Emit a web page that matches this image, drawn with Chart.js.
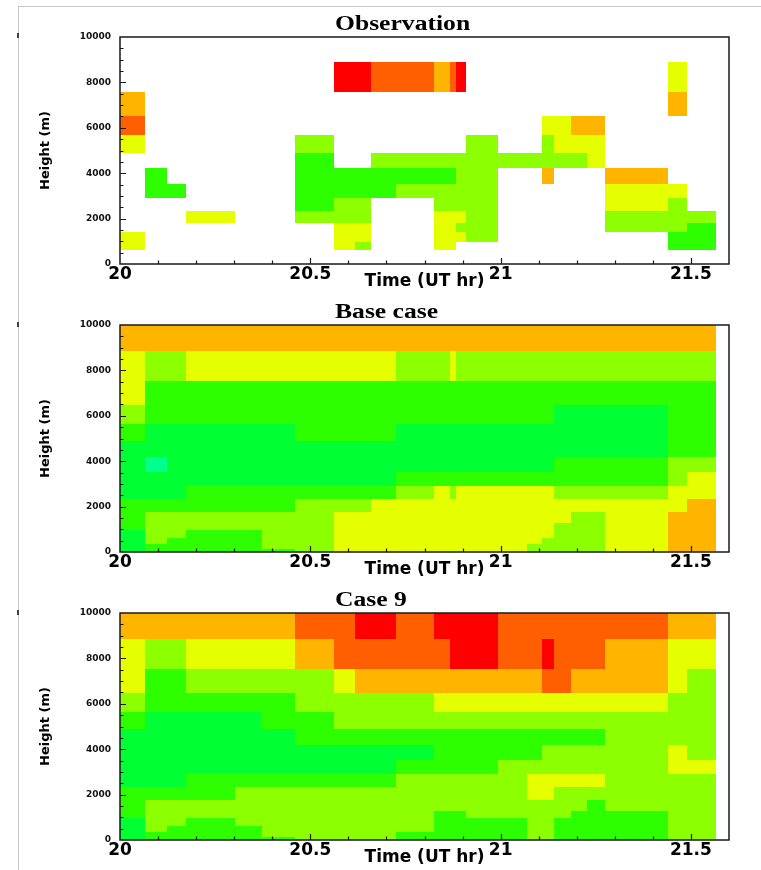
<!DOCTYPE html>
<html>
<head>
<meta charset="utf-8">
<title>Observation / Base case / Case 9</title>
<script src="https://cdn.jsdelivr.net/npm/chart.js@4.4.1/dist/chart.umd.min.js"></script>
<style>
  html, body { margin: 0; padding: 0; background: #fff; }
  body { width: 761px; height: 870px; position: relative; overflow: hidden; }
  .frame { position: absolute; left: 18px; top: 6px; right: 0; bottom: 0;
           border-left: 1px solid #c6c6c6; border-top: 1px solid #c6c6c6; }
  .mark { position: absolute; left: 17px; width: 2px; height: 5px; background: #444; }
  .panel { position: absolute; left: 0; width: 761px; height: 290px; }
</style>
</head>
<body>
<div class="frame"></div>
<div class="mark" style="top:33px"></div>
<div class="mark" style="top:322px"></div>
<div class="mark" style="top:610px"></div>
<div class="panel" style="top:0px"><canvas id="obs"></canvas></div>
<div class="panel" style="top:288px"><canvas id="base"></canvas></div>
<div class="panel" style="top:576px"><canvas id="case9"></canvas></div>

<script>
// column boundaries (UT hours) shared by all three panels
const timeEdges = [20.000, 20.066, 20.124, 20.174, 20.301, 20.374, 20.461, 20.561,
                   20.617, 20.660, 20.726, 20.824, 20.867, 20.882, 20.909, 20.993,
                   21.068, 21.108, 21.139, 21.186, 21.226, 21.274, 21.441, 21.489, 21.567];

// layer boundaries (m)
const obsHeights = [0, 620, 960, 1400, 1790, 2350, 2890, 3520, 4210, 4900, 5680, 6520, 7560, 8880, 10000];
const modelHeights = [0, 150, 340, 630, 970, 1290, 1780, 2340, 2910, 3520, 4190, 4890, 5650, 6480, 7520, 8870, 10000];

// colour classes 0..7
const levelColors = ['#00ff8c', '#00ff33', '#2dff00', '#8cff00', '#e6ff00', '#ffb400', '#ff5f00', '#ff0000'];

const timeTicks = [20, 20.5, 21, 21.5];
const heightTicks = [0, 2000, 4000, 6000, 8000, 10000];

// one string per layer, top layer first; one character per time column, '.' = no data
const obsRows = [
  '........................',
  '.......7766567........4.',
  '5.....................5.',
  '6................4455...',
  '4.....3.......3..3444...',
  '......2..333333333334...',
  '.2....222222233..5...5..',
  '.22...222233333......44.',
  '......233..3333......43.',
  '...4..333..4443......333',
  '.......44..4433......332',
  '4......44..4443.......22',
  '4......43..44.........22',
  '........................'
];

const baseRows = [
  '555555555555555555555555',
  '433444444433433333333333',
  '422222222222222222222222',
  '322222222222222222111122',
  '211111222211111111111122',
  '111111111111111111111122',
  '101111111111111111222233',
  '111111111122222222222234',
  '111222222234344444333344',
  '222222333444444444444445',
  '233333344444444444433455',
  '233333344444444444333455',
  '133223344444444444333455',
  '132223344444444443333455',
  '122223344444444433333455',
  '122222344444444433333455'
];

const case9Rows = [
  '555555667767777666666655',
  '433444566666777667666544',
  '422333345555555556655543',
  '322222333334444444444433',
  '211112233333333333333333',
  '111111222222222222222333',
  '111111111112222223333343',
  '111111111122222333333344',
  '111222222233333344444333',
  '222233333333333344333333',
  '233333333333333333332333',
  '233333333332223333322233',
  '133233333332222233222233',
  '132223333332222233222233',
  '122223333322222233222233',
  '122222333322222233222233'
];

// fills the time/height cells through the chart's own scales
function cellLayer(rows, heights) {
  rows.forEach(r => {
    if (r.length !== timeEdges.length - 1) throw new Error('bad row length: ' + r);
  });
  if (rows.length !== heights.length - 1) throw new Error('bad layer count');
  return {
    id: 'cellLayer',
    beforeDatasetsDraw(chart) {
      const {ctx, chartArea: a, scales: {x, y}} = chart;
      ctx.save();
      ctx.beginPath();
      ctx.rect(a.left, a.top, a.width, a.height);
      ctx.clip();
      rows.forEach((row, k) => {
        const band = rows.length - 1 - k;
        const yTop = Math.round(y.getPixelForValue(heights[band + 1]));
        const yBot = Math.round(y.getPixelForValue(heights[band]));
        for (let c = 0; c < row.length; c++) {
          if (row[c] === '.') continue;
          const x0 = Math.round(x.getPixelForValue(timeEdges[c]));
          const x1 = Math.round(x.getPixelForValue(timeEdges[c + 1]));
          ctx.fillStyle = levelColors[+row[c]];
          ctx.fillRect(x0, yTop, x1 - x0, yBot - yTop);
        }
      });
      ctx.restore();
    }
  };
}

// box around the plot with inward tick marks
const frameTicks = {
  id: 'frameTicks',
  afterDatasetsDraw(chart) {
    const {ctx, chartArea: a, scales: {x, y}} = chart;
    ctx.save();
    ctx.strokeStyle = '#1a1a1a';
    ctx.lineWidth = 1.2;
    ctx.beginPath();
    for (let i = 1; i < 16; i++) {
      const px = Math.round(x.getPixelForValue(20 + i / 10)) + 0.5;
      const len = i % 5 === 0 ? 6 : 3.5;
      ctx.moveTo(px, a.bottom);
      ctx.lineTo(px, a.bottom - len);
    }
    for (let i = 1; i < 20; i++) {
      const py = Math.round(y.getPixelForValue(i * 500)) + 0.5;
      const len = i % 4 === 0 ? 6 : 3.5;
      ctx.moveTo(a.left, py);
      ctx.lineTo(a.left + len, py);
    }
    ctx.stroke();
    ctx.lineWidth = 1.5;
    ctx.strokeRect(a.left, a.top, a.width, a.height);
    ctx.restore();
  }
};

// panel heading, left-set above the plot in a wide bold serif
function panelTitle(text) {
  return {
    id: 'panelTitle',
    afterDraw(chart) {
      const ctx = chart.ctx;
      ctx.save();
      ctx.fillStyle = '#000';
      ctx.font = 'bold 20px "Liberation Serif", serif';
      ctx.textBaseline = 'alphabetic';
      ctx.textAlign = 'left';
      ctx.translate(335, 29.5);
      ctx.scale(1.28, 1);
      ctx.fillText(text, 0, 0);
      ctx.restore();
    }
  };
}

const boldSans = (size, lineHeight) => ({family: '"DejaVu Sans", sans-serif', weight: 'bold', size, lineHeight});

function makePanel(id, title, rows, heights) {
  return new Chart(document.getElementById(id), {
    type: 'scatter',
    data: { datasets: [{ data: [] }] },
    options: {
      responsive: true,
      maintainAspectRatio: false,
      animation: false,
      events: [],
      layout: { padding: { left: 0, right: 32, top: 37, bottom: 0 } },
      plugins: { legend: { display: false }, tooltip: { enabled: false } },
      scales: {
        x: {
          type: 'linear', min: 20, max: 21.6,
          afterBuildTicks: s => { s.ticks = timeTicks.map(v => ({ value: v })); },
          afterFit: s => { s.height = 26; },
          grid: { display: false, drawTicks: false },
          border: { display: false },
          ticks: { padding: 0, maxRotation: 0, autoSkip: false, color: '#000',
                   font: boldSans(17, 1.2), callback: v => String(v) },
          title: { display: true, text: 'Time (UT hr)', color: '#000',
                   font: boldSans(17, 1), padding: { top: 0, bottom: 0 } }
        },
        y: {
          type: 'linear', min: 0, max: 10000,
          afterBuildTicks: s => { s.ticks = heightTicks.map(v => ({ value: v })); },
          afterFit: s => { s.width = 120; },
          grid: { display: false, drawTicks: false },
          border: { display: false },
          ticks: { padding: 9, color: '#111', font: boldSans(9, 1.2), callback: v => String(v) },
          title: { display: true, text: 'Height (m)', color: '#000',
                   font: boldSans(13, 1.2), padding: { top: 38, bottom: 0 } }
        }
      }
    },
    plugins: [cellLayer(rows, heights), frameTicks, panelTitle(title)]
  });
}

makePanel('obs', 'Observation', obsRows, obsHeights);
makePanel('base', 'Base case', baseRows, modelHeights);
makePanel('case9', 'Case 9', case9Rows, modelHeights);
</script>
</body>
</html>
